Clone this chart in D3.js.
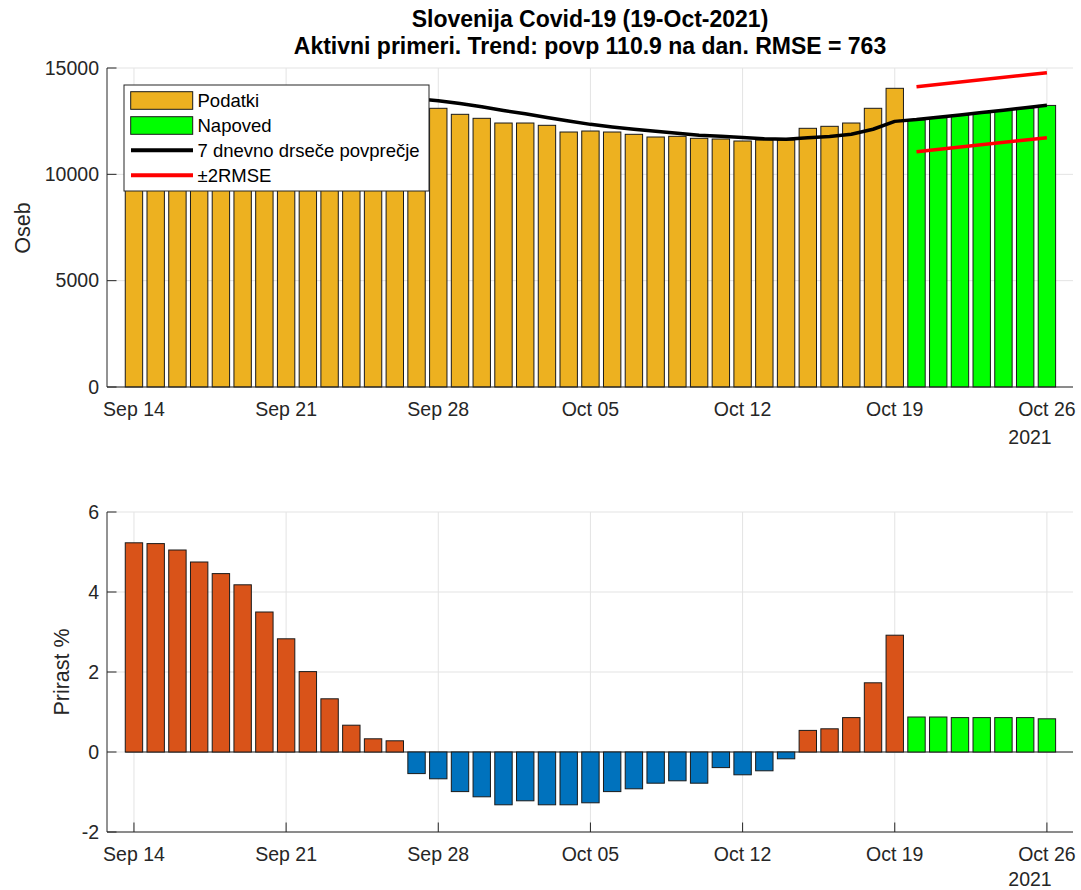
<!DOCTYPE html>
<html>
<head>
<meta charset="utf-8">
<script src="https://cdn.jsdelivr.net/npm/d3@7"></script>
<style>
  html, body { margin: 0; padding: 0; background: #ffffff; }
  svg { display: block; font-family: "Liberation Sans", Arial, Helvetica, sans-serif; }
</style>
</head>
<body>
<svg id="chart" width="1081" height="890"></svg>
<script>
// ---------------- DATA ----------------
const dates = [
  "2021-09-14","2021-09-15","2021-09-16","2021-09-17","2021-09-18","2021-09-19","2021-09-20",
  "2021-09-21","2021-09-22","2021-09-23","2021-09-24","2021-09-25","2021-09-26","2021-09-27",
  "2021-09-28","2021-09-29","2021-09-30","2021-10-01","2021-10-02","2021-10-03","2021-10-04",
  "2021-10-05","2021-10-06","2021-10-07","2021-10-08","2021-10-09","2021-10-10","2021-10-11",
  "2021-10-12","2021-10-13","2021-10-14","2021-10-15","2021-10-16","2021-10-17","2021-10-18",
  "2021-10-19","2021-10-20","2021-10-21","2021-10-22","2021-10-23","2021-10-24","2021-10-25",
  "2021-10-26"
];
// Active cases (Podatki), Sep 14 - Oct 19
const dataValues = [
  10300, 10850, 11400, 11900, 12350, 12750, 13150,
  13450, 13650, 13800, 13800, 13750, 13650, 13400,
  13105, 12822, 12634, 12413, 12413, 12305, 11990,
  12037, 11990, 11882, 11755, 11788, 11694, 11661,
  11567, 11614, 11614, 12164, 12258, 12413, 13105,
  14045
];
// Forecast (Napoved), Oct 20 - Oct 26
const forecastValues = [12560, 12665, 12775, 12890, 13000, 13115, 13240];
// 7-day moving average (7 dnevno drseče povprečje), Sep 14 - Oct 26
const movingAvg = [
  9704, 10209, 10725, 11234, 11735, 12225, 12653,
  13011, 13273, 13450, 13540, 13585, 13623, 13550,
  13459, 13326, 13177, 13003, 12845, 12675, 12508,
  12350, 12228, 12115, 12021, 11934, 11841, 11795,
  11728, 11673, 11653, 11716, 11784, 11885, 12120,
  12490, 12575, 12685, 12795, 12905, 13015, 13130,
  13250
];
// ±2RMSE band endpoints (Oct 20, Oct 26)
const bandDates = ["2021-10-20", "2021-10-26"];
const bandUpper = [14120, 14780];
const bandLower = [11065, 11720];
// Daily growth % (Prirast %), Sep 14 - Oct 26
const growthPct = [
  5.23, 5.21, 5.05, 4.75, 4.46, 4.18, 3.50,
  2.83, 2.01, 1.33, 0.67, 0.33, 0.28, -0.54,
  -0.67, -0.99, -1.12, -1.32, -1.22, -1.32, -1.32,
  -1.27, -0.99, -0.92, -0.78, -0.72, -0.78, -0.39,
  -0.57, -0.47, -0.17, 0.54, 0.58, 0.86, 1.73,
  2.92, 0.875, 0.875, 0.86, 0.86, 0.86, 0.86,
  0.83
];
const xTickDates = ["2021-09-14","2021-09-21","2021-09-28","2021-10-05","2021-10-12","2021-10-19","2021-10-26"];
const yTicksTop = [0, 5000, 10000, 15000];
const yTicksBottom = [-2, 0, 2, 4, 6];
const titleLines = ["Slovenija Covid-19 (19-Oct-2021)", "Aktivni primeri. Trend: povp 110.9 na dan. RMSE = 763"];
const legendLabels = ["Podatki", "Napoved", "7 dnevno drseče povprečje", "±2RMSE"];
const yearLabel = "2021";

// ---------------- SETUP ----------------
const parse = d3.timeParse("%Y-%m-%d");
const D = dates.map(parse);
const nData = dataValues.length;
const C = {
  data: "#EDB120", fc: "#00FF00", pos: "#D95319", neg: "#0072BD",
  axis: "#262626", grid: "#e3e3e3", edge: "#1a1a1a"
};
const DAY = 86400000;
const svg = d3.select("#chart");
const L = 107, R = 1073;
const x = d3.scaleTime()
  .domain([new Date(D[0].getTime() - 1.24 * DAY), new Date(D[D.length - 1].getTime() + 1.2 * DAY)])
  .range([L, R]);
const dayW = x(D[1]) - x(D[0]);
const bw = dayW * 0.8;
const fmt = d3.timeFormat("%b %d");
const xt = xTickDates.map(parse);
const TICK = 9.5;
const FS = 19.5;

function drawFrame(g, y, yTicks, top, bottom) {
  g.append("g").selectAll("line").data(xt).join("line")
    .attr("x1", d => x(d)).attr("x2", d => x(d)).attr("y1", top).attr("y2", bottom)
    .attr("stroke", C.grid).attr("stroke-width", 1);
  g.append("g").selectAll("line").data(yTicks).join("line")
    .attr("x1", L).attr("x2", R).attr("y1", d => y(d)).attr("y2", d => y(d))
    .attr("stroke", C.grid).attr("stroke-width", 1);
  g.append("g").selectAll("line").data(xt).join("line")
    .attr("x1", d => x(d)).attr("x2", d => x(d)).attr("y1", bottom).attr("y2", bottom - TICK)
    .attr("stroke", C.axis).attr("stroke-width", 1);
  g.append("g").selectAll("line").data(yTicks).join("line")
    .attr("x1", L).attr("x2", L + TICK).attr("y1", d => y(d)).attr("y2", d => y(d))
    .attr("stroke", C.axis).attr("stroke-width", 1);
}

function drawAxesLines(g, y, yTicks, top, bottom, yearDy) {
  g.append("line").attr("x1", L).attr("x2", L).attr("y1", top).attr("y2", bottom)
    .attr("stroke", C.axis).attr("stroke-width", 1);
  g.append("line").attr("x1", L).attr("x2", R).attr("y1", bottom).attr("y2", bottom)
    .attr("stroke", C.axis).attr("stroke-width", 1);
  g.append("g").selectAll("text").data(yTicks).join("text")
    .attr("x", L - 8).attr("y", d => y(d)).attr("dy", "0.35em")
    .attr("text-anchor", "end").attr("font-size", FS).attr("fill", C.axis)
    .text(d => d);
  g.append("g").selectAll("text").data(xt).join("text")
    .attr("x", d => x(d)).attr("y", bottom + 29)
    .attr("text-anchor", "middle").attr("font-size", FS).attr("fill", C.axis)
    .text(d => fmt(d));
  g.append("text").attr("x", 1030).attr("y", bottom + yearDy)
    .attr("text-anchor", "middle").attr("font-size", FS).attr("fill", C.axis)
    .text(yearLabel);
}

// ---------------- TOP PANEL ----------------
const T1 = 68, B1 = 387;
const y1 = d3.scaleLinear().domain([0, 15000]).range([B1, T1]);
const g1 = svg.append("g");
drawFrame(g1, y1, yTicksTop, T1, B1);

const allBars = D.map((d, i) => ({ d, v: i < nData ? dataValues[i] : forecastValues[i - nData], fc: i >= nData }));
g1.append("g").selectAll("rect").data(allBars).join("rect")
  .attr("x", d => x(d.d) - bw / 2).attr("width", bw)
  .attr("y", d => y1(d.v)).attr("height", d => y1(0) - y1(d.v))
  .attr("fill", d => d.fc ? C.fc : C.data)
  .attr("stroke", C.edge).attr("stroke-width", 1);

drawAxesLines(g1, y1, yTicksTop, T1, B1, 57);

const line1 = d3.line().x(d => x(d[0])).y(d => y1(d[1]));
g1.append("path").datum(D.map((d, i) => [d, movingAvg[i]]))
  .attr("d", line1).attr("fill", "none").attr("stroke", "#000").attr("stroke-width", 3.5)
  .attr("stroke-linejoin", "round");
const BD = bandDates.map(parse);
[bandUpper, bandLower].forEach(arr => {
  g1.append("path").datum(BD.map((d, i) => [d, arr[i]]))
    .attr("d", line1).attr("fill", "none").attr("stroke", "#FF0000").attr("stroke-width", 3.5);
});

svg.append("text").attr("transform", "translate(22.5,228) rotate(-90)")
  .attr("text-anchor", "middle").attr("dy", "0.35em").attr("font-size", 21.5).attr("fill", C.axis)
  .text("Oseb");

// legend
const lg = svg.append("g");
lg.append("rect").attr("x", 124).attr("y", 85).attr("width", 305).attr("height", 106)
  .attr("fill", "#fff").attr("stroke", C.axis).attr("stroke-width", 1);
const rowY = [100.5, 125.5, 150.3, 175.2];
lg.append("rect").attr("x", 130.7).attr("y", rowY[0] - 8.8).attr("width", 62).attr("height", 17.6)
  .attr("fill", C.data).attr("stroke", C.edge).attr("stroke-width", 1);
lg.append("rect").attr("x", 130.7).attr("y", rowY[1] - 8.8).attr("width", 62).attr("height", 17.6)
  .attr("fill", C.fc).attr("stroke", C.edge).attr("stroke-width", 1);
lg.append("line").attr("x1", 131).attr("x2", 193).attr("y1", rowY[2]).attr("y2", rowY[2])
  .attr("stroke", "#000").attr("stroke-width", 4);
lg.append("line").attr("x1", 131).attr("x2", 193).attr("y1", rowY[3]).attr("y2", rowY[3])
  .attr("stroke", "#FF0000").attr("stroke-width", 4);
lg.selectAll("text.l").data(legendLabels).join("text").attr("class", "l")
  .attr("x", 197.5).attr("y", (d, i) => rowY[i]).attr("dy", "0.35em")
  .attr("font-size", 18.5).attr("fill", "#000").text(d => d);

// ---------------- BOTTOM PANEL ----------------
const T2 = 512, B2 = 832;
const y2 = d3.scaleLinear().domain([-2, 6]).range([B2, T2]);
const g2 = svg.append("g");
drawFrame(g2, y2, yTicksBottom, T2, B2);

const gBars = D.map((d, i) => ({ d, v: growthPct[i], fc: i >= nData }));
g2.append("line").attr("x1", x(D[0]) - bw / 2).attr("x2", R).attr("y1", y2(0)).attr("y2", y2(0))
  .attr("stroke", C.axis).attr("stroke-width", 1);
g2.append("g").selectAll("rect").data(gBars).join("rect")
  .attr("x", d => x(d.d) - bw / 2).attr("width", bw)
  .attr("y", d => y2(Math.max(0, d.v))).attr("height", d => Math.abs(y2(d.v) - y2(0)))
  .attr("fill", d => d.fc ? C.fc : (d.v >= 0 ? C.pos : C.neg))
  .attr("stroke", C.edge).attr("stroke-width", 1);

drawAxesLines(g2, y2, yTicksBottom, T2, B2, 54);

svg.append("text").attr("transform", "translate(61,672) rotate(-90)")
  .attr("text-anchor", "middle").attr("dy", "0.35em").attr("font-size", 21.5).attr("fill", C.axis)
  .text("Prirast %");

// ---------------- TITLE ----------------
svg.append("g").selectAll("text").data(titleLines).join("text")
  .attr("x", (L + R) / 2).attr("y", (d, i) => 27 + i * 27)
  .attr("text-anchor", "middle").attr("font-size", 23).attr("font-weight", "bold").attr("fill", "#000")
  .text(d => d);
</script>
</body>
</html>
